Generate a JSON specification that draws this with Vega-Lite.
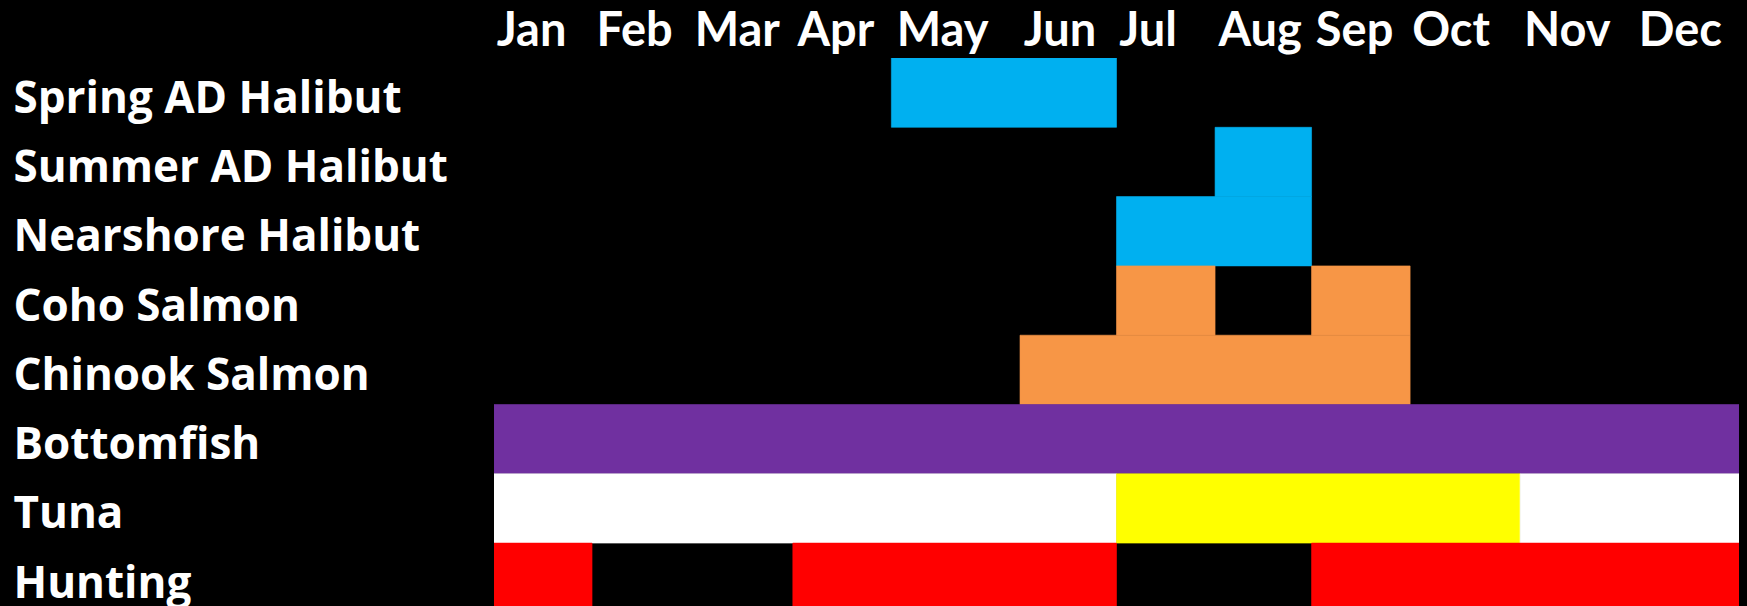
{
  "$schema": "https://vega.github.io/schema/vega-lite/v6.json",
  "width": 1245,
  "height": 548,
  "autosize": {"type": "none"},
  "padding": {"left": 494, "top": 58, "right": 8, "bottom": 0},
  "background": "#000000",
  "config": {"view": {"stroke": null}},
  "data": {
    "values": [
      {"activity": "Spring AD Halibut", "start": 3.83, "end": 6.0, "kind": "Halibut"},
      {"activity": "Summer AD Halibut", "start": 6.95, "end": 7.88, "kind": "Halibut"},
      {"activity": "Nearshore Halibut", "start": 6.0, "end": 7.88, "kind": "Halibut"},
      {"activity": "Coho Salmon", "start": 6.0, "end": 6.95, "kind": "Salmon"},
      {"activity": "Coho Salmon", "start": 7.88, "end": 8.83, "kind": "Salmon"},
      {"activity": "Chinook Salmon", "start": 5.07, "end": 8.83, "kind": "Salmon"},
      {"activity": "Bottomfish", "start": 0, "end": 12, "kind": "Bottomfish"},
      {"activity": "Tuna", "start": 0, "end": 6.0, "kind": "Tuna off-peak"},
      {"activity": "Tuna", "start": 6.0, "end": 9.89, "kind": "Tuna peak"},
      {"activity": "Tuna", "start": 9.89, "end": 12, "kind": "Tuna off-peak"},
      {"activity": "Hunting", "start": 0, "end": 0.945, "kind": "Hunting"},
      {"activity": "Hunting", "start": 2.88, "end": 6.0, "kind": "Hunting"},
      {"activity": "Hunting", "start": 7.88, "end": 12, "kind": "Hunting"}
    ]
  },
  "mark": {"type": "bar", "clip": true, "cornerRadius": 0, "strokeWidth": 0.6},
  "encoding": {
    "y": {
      "field": "activity",
      "type": "nominal",
      "scale": {
        "domain": ["Spring AD Halibut", "Summer AD Halibut", "Nearshore Halibut", "Coho Salmon", "Chinook Salmon", "Bottomfish", "Tuna", "Hunting"],
        "range": [0, 554.4],
        "paddingInner": 0,
        "paddingOuter": 0
      },
      "axis": {
        "orient": "left",
        "title": null,
        "domain": false,
        "ticks": false,
        "tickSize": 0,
        "grid": false,
        "labelAlign": "left",
        "labelBaseline": "alphabetic",
        "labelPadding": 481,
        "labelOffset": 20,
        "labelFont": "Open Sans",
        "labelFontWeight": "bold",
        "labelFontSize": 44,
        "labelColor": "#FFFFFF",
        "labelLimit": 0,
        "labelOverlap": false,
        "labelBound": false
      }
    },
    "x": {
      "field": "start",
      "type": "quantitative",
      "scale": {"domain": [0, 12], "nice": false, "zero": false},
      "axis": {
        "orient": "top",
        "title": null,
        "domain": false,
        "ticks": false,
        "tickSize": 0,
        "grid": false,
        "values": [0.357, 1.35, 2.34, 3.29, 4.32, 5.45, 6.3, 7.38, 8.29, 9.22, 10.34, 11.43],
        "labelExpr": "['Jan','Feb','Mar','Apr','May','Jun','Jul','Aug','Sep','Oct','Nov','Dec'][floor(datum.value)]",
        "labelAlign": "center",
        "labelBaseline": "alphabetic",
        "labelPadding": 13,
        "labelFont": "Lato",
        "labelFontWeight": "bold",
        "labelFontSize": 47,
        "labelColor": "#FFFFFF",
        "labelOverlap": false,
        "labelFlush": false,
        "labelBound": false
      }
    },
    "x2": {"field": "end"},
    "color": {
      "field": "kind",
      "type": "nominal",
      "scale": {
        "domain": ["Halibut", "Salmon", "Bottomfish", "Tuna off-peak", "Tuna peak", "Hunting"],
        "range": ["#00B0F0", "#F79646", "#7030A0", "#FFFFFF", "#FFFF00", "#FF0000"]
      },
      "legend": null
    },
    "stroke": {
      "field": "kind",
      "type": "nominal",
      "scale": {
        "domain": ["Halibut", "Salmon", "Bottomfish", "Tuna off-peak", "Tuna peak", "Hunting"],
        "range": ["#00B0F0", "#F79646", "#7030A0", "#FFFFFF", "#FFFF00", "#FF0000"]
      },
      "legend": null
    }
  }
}
